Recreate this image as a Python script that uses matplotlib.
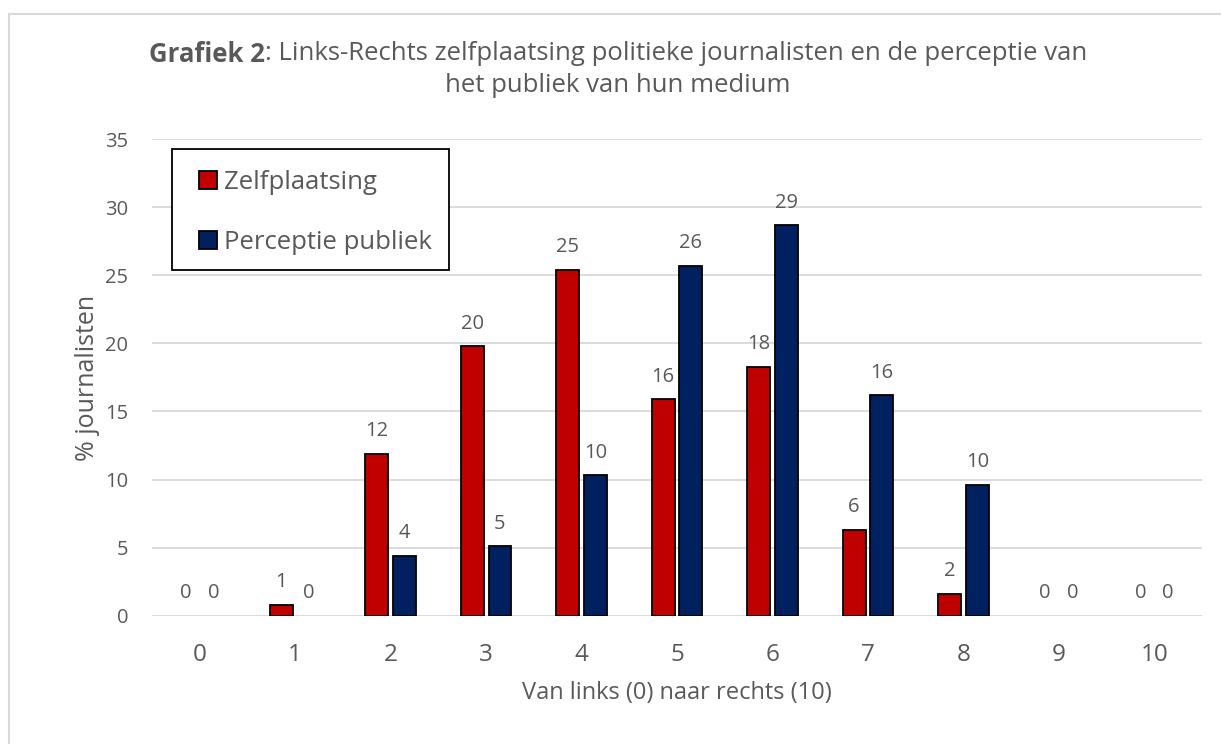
import matplotlib.pyplot as plt
import numpy as np
from matplotlib.patches import Rectangle

# ── Daten ──────────────────────────────────────────────────────────────────────

categories = ["0", "1", "2", "3", "4", "5", "6", "7", "8", "9", "10"]
zelfplaatsing = [0, 0.8, 11.9, 19.8, 25.4, 15.9, 18.3, 6.3, 1.6, 0, 0]
perceptie = [0, 0, 4.4, 5.1, 10.3, 25.7, 28.7, 16.2, 9.6, 0, 0]

RED = "#C00000"
BLUE = "#002060"
TEXT = "#595959"
GRID = "#D9D9D9"

plt.rcParams["font.family"] = ["Open Sans", "DejaVu Sans"]

fig = plt.figure(figsize=(12.21, 7.44), dpi=100)
ax = fig.add_axes([0.1245, 0.1725, 0.860, 0.6403])

# Rahmen des Diagrammbereichs (nur links/oben sichtbar)
fig.patches.append(Rectangle((9 / 1221, -0.05), 1.1, 1 - 14 / 744 + 0.05,
                             transform=fig.transFigure, fill=False,
                             edgecolor="#D9D9D9", linewidth=1.5))

x = np.arange(len(categories))
w = 0.24
off = 0.145
for vals, col, lab, sgn in ((zelfplaatsing, RED, "Zelfplaatsing", -1),
                            (perceptie, BLUE, "Perceptie publiek", 1)):
    lw = [1.3 if v > 0 else 0 for v in vals]
    bars = ax.bar(x + sgn * off, vals, w, color=col, edgecolor="black",
                  linewidth=lw, label=lab, zorder=3)
    for rect, v in zip(bars, vals):
        ax.annotate(f"{v:.0f}", (rect.get_x() + rect.get_width() / 2, v),
                    xytext=(0, 9), textcoords="offset points",
                    ha="center", va="bottom", fontsize=14.5, color=TEXT)

ax.set_xlim(-0.5, len(categories) - 0.5)
ax.set_ylim(0, 35)
ax.set_yticks(range(0, 36, 5))
ax.set_xticks(x)
ax.set_xticklabels(categories)
ax.tick_params(axis="x", length=0, labelsize=17.5, colors=TEXT, pad=20)
ax.tick_params(axis="y", length=0, labelsize=14.5, colors=TEXT, pad=17)
ax.grid(axis="y", color=GRID, linewidth=1.3, zorder=0)
for s in ax.spines.values():
    s.set_visible(False)

ax.set_xlabel("Van links (0) naar rechts (10)", fontsize=17, color=TEXT, labelpad=10)
ax.set_ylabel("% journalisten", fontsize=18, color=TEXT, labelpad=4)

# Titel mit fettem Präfix, zentriert
TITLE_FS = 18.5
cx = 618 / 1221
y1 = 1 - 54 / 744
y2 = 1 - 85 / 744
t_bold = fig.text(0, y1, "Grafiek 2", ha="left", va="center",
                  fontsize=TITLE_FS, fontweight="bold", color=TEXT)
t_rest = fig.text(0, y1, ": Links-Rechts zelfplaatsing politieke journalisten en de perceptie van",
                  ha="left", va="center", fontsize=TITLE_FS, color=TEXT)
fig.canvas.draw()
wb = t_bold.get_window_extent().width / fig.bbox.width
wr = t_rest.get_window_extent().width / fig.bbox.width
left = cx - (wb + wr) / 2
t_bold.set_x(left)
t_rest.set_x(left + wb)
fig.text(cx, y2, "het publiek van hun medium", ha="center", va="center",
         fontsize=TITLE_FS, color=TEXT)

# Legende: eigener Rahmen, Einträge ohne Standardrahmen
ax_h = 476.4
ax.add_patch(Rectangle((20 / 1050, (615.7 - 270) / ax_h), 277 / 1050, 121 / ax_h,
                       transform=ax.transAxes, facecolor="white",
                       edgecolor="black", linewidth=1.3, zorder=4))
leg = ax.legend(loc="upper left", bbox_to_anchor=(47 / 1050, (615.7 - 170) / ax_h),
                fontsize=18.5, frameon=False,
                handlelength=0.7, handleheight=0.7, handletextpad=0.27,
                labelspacing=1.36, borderpad=0, labelcolor=TEXT,
                borderaxespad=0)
for h in leg.legend_handles:
    h.set_linewidth(1.3)
    h.set_edgecolor("black")
leg.set_zorder(5)

fig.savefig("out.png", dpi=100)
